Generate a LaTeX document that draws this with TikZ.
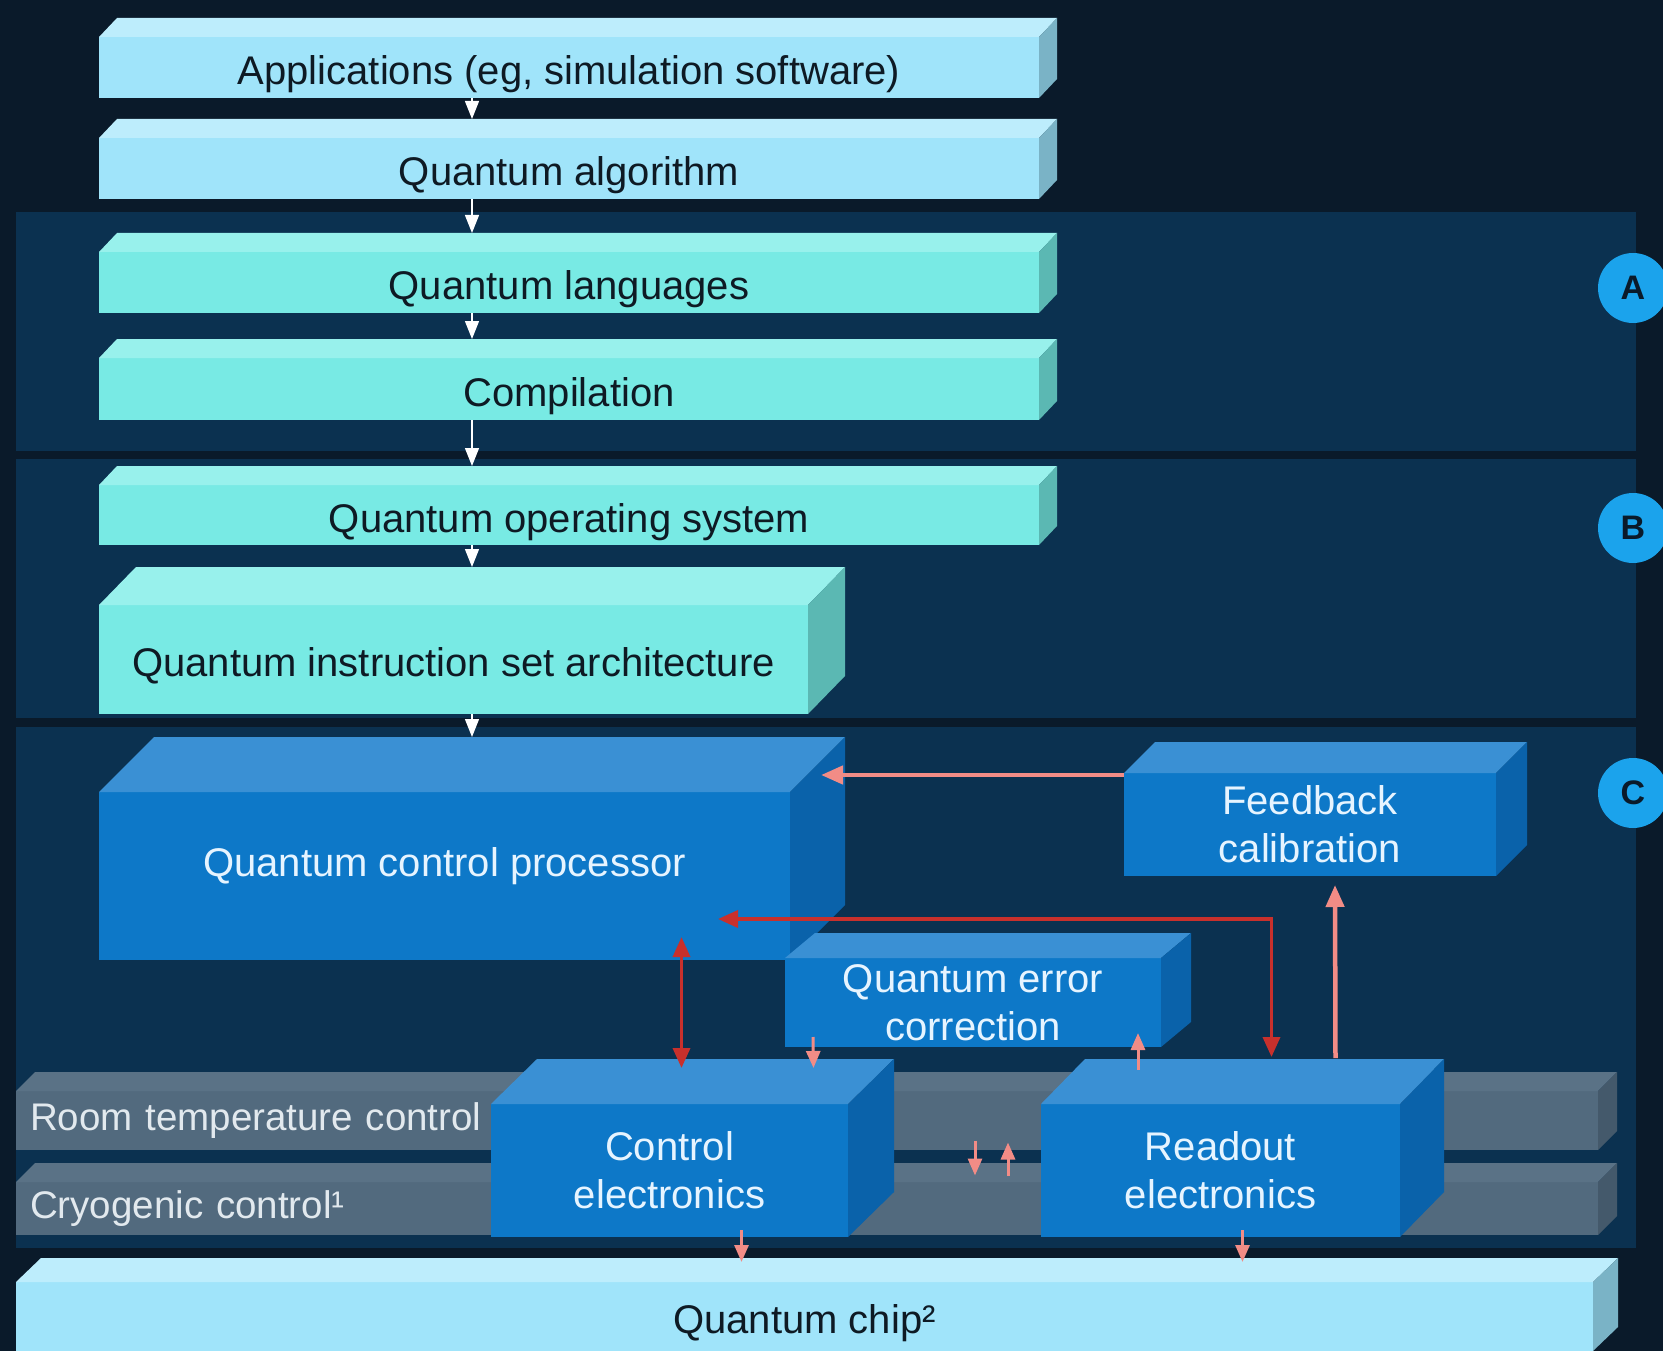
\documentclass[tikz,border=0pt]{standalone}
\usepackage{fontspec}
\setmainfont{Liberation Sans}
\usetikzlibrary{arrows.meta,calc}

\definecolor{bgnavy}{HTML}{0A1A2A}
\definecolor{panelnavy}{HTML}{0B3150}
\definecolor{skyfront}{HTML}{A0E4FA}
\definecolor{skytop}{HTML}{BDEDFC}
\definecolor{skyside}{HTML}{7AB3C6}
\definecolor{tealfront}{HTML}{78EAE4}
\definecolor{tealtop}{HTML}{98F1EC}
\definecolor{tealside}{HTML}{5BB8B3}
\definecolor{bluefront}{HTML}{0D78C8}
\definecolor{bluetop}{HTML}{3A90D4}
\definecolor{blueside}{HTML}{0A62AA}
\definecolor{grayfront}{HTML}{526A7E}
\definecolor{graytop}{HTML}{5A7286}
\definecolor{grayside}{HTML}{44596B}
\definecolor{badgeblue}{HTML}{1BA3EC}
\definecolor{linkpink}{HTML}{F28C86}
\definecolor{linkred}{HTML}{C8302C}
\definecolor{inkdark}{HTML}{0E1A24}
\definecolor{inklight}{HTML}{E6F4FF}
\definecolor{bandink}{HTML}{E2E9EE}

% top and right faces of a slab: node, dx, dy, colour family
\newcommand{\boxfaces}[4]{%
  \fill[#4top] (#1.north west) -- ++(#2,-#3)
    -- ($(#1.north east)+(#2,-#3)$) -- (#1.north east) -- cycle;
  \fill[#4side] (#1.north east) -- ++(#2,-#3)
    -- ($(#1.south east)+(#2,-#3)$) -- (#1.south east) -- cycle;}

\begin{document}
\begin{tikzpicture}[x=1pt, y=-1pt,
  slab/.style={anchor=north west, inner sep=0pt, outer sep=0pt,
    align=center, font=\fontsize{40}{48}\selectfont},
  skyslab/.style={slab, fill=skyfront, text=inkdark,
    text height=37pt, text depth=3pt},
  tealslab/.style={slab, fill=tealfront, text=inkdark,
    text height=37pt, text depth=3pt},
  blueslab/.style={slab, fill=bluefront, text=inklight},
  grayslab/.style={slab, fill=grayfront, text=bandink,
    font=\fontsize{38.5}{46}\selectfont,
    inner xsep=14pt, text width=1554pt, align=left},
  badge/.style={circle, fill=badgeblue, minimum size=70pt, inner sep=0pt,
    font=\fontsize{34}{34}\selectfont\bfseries, text=bgnavy},
  flow/.style={-{Triangle[width=14pt,length=18pt]}, white, line width=1.2pt},
  fbk/.style={-{Triangle[width=18pt,length=22pt]}, linkpink, line width=4.5pt},
  sig/.style={-{Triangle[width=14pt,length=17pt]}, linkpink, line width=3pt},
  redlink/.style={{Triangle[width=17pt,length=20pt]}-{Triangle[width=17pt,length=20pt]},
    linkred, line width=3.5pt}]

% backdrop and the three layers
\useasboundingbox (0,0) rectangle (1663,1351);
\fill[bgnavy] (0,0) rectangle (1663,1351);
\fill[panelnavy] (16,212) rectangle (1636,451);
\fill[panelnavy] (16,459) rectangle (1636,718);
\fill[panelnavy] (16,727) rectangle (1636,1248);

\node[badge] (tagA) at (1633,288) {A};
\node[badge] (tagB) at (1633,528) {B};
\node[badge] (tagC) at (1633,793) {C};

% software stack
\node[skyslab, minimum width=940pt, minimum height=61pt] (app) at (99,37)
  {Applications (eg, simulation software)};
\boxfaces{app}{18}{19}{sky}
\node[skyslab, minimum width=940pt, minimum height=61pt] (algo) at (99,138)
  {Quantum algorithm};
\boxfaces{algo}{18}{19}{sky}
\node[tealslab, minimum width=940pt, minimum height=61pt] (lang) at (99,252)
  {Quantum languages};
\boxfaces{lang}{18}{19}{teal}
\node[tealslab, minimum width=940pt, minimum height=62pt] (comp) at (99,358)
  {Compilation};
\boxfaces{comp}{18}{19}{teal}
\node[tealslab, minimum width=940pt, minimum height=60pt] (qos) at (99,485)
  {Quantum operating system};
\boxfaces{qos}{18}{19}{teal}
\node[tealslab, minimum width=709pt, minimum height=109pt] (qisa) at (99,605)
  {Quantum instruction set architecture};
\boxfaces{qisa}{37}{38}{teal}

% control layer
\node[blueslab, minimum width=691pt, minimum height=168pt,
  text height=18pt, text depth=18pt] (qcp) at (99,792)
  {Quantum control processor};
\boxfaces{qcp}{55}{55}{blue}
\node[blueslab, minimum width=372pt, minimum height=103pt] (fb) at (1124,773)
  {Feedback\\calibration};
\boxfaces{fb}{31}{31}{blue}
\node[blueslab, minimum width=376pt, minimum height=89pt] (qec) at (785,958)
  {Quantum error\\correction};
\boxfaces{qec}{30}{25}{blue}

\node[grayslab, minimum height=59pt] (room) at (16,1091)
  {Room temperature control};
\boxfaces{room}{19}{19}{gray}
\node[grayslab, minimum height=53pt] (cryo) at (16,1182)
  {Cryogenic control¹};
\boxfaces{cryo}{19}{19}{gray}

\node[blueslab, minimum width=357pt, minimum height=133pt] (ctrl) at (491,1104)
  {Control\\electronics};
\boxfaces{ctrl}{46}{45}{blue}
\node[blueslab, minimum width=359pt, minimum height=133pt] (ro) at (1041,1104)
  {Readout\\electronics};
\boxfaces{ro}{44}{45}{blue}

\node[skyslab, minimum width=1577pt, minimum height=69pt] (chip) at (16,1282)
  {Quantum chip²};
\boxfaces{chip}{25}{24}{sky}

% downward flow through the stack
\coordinate (col) at (472,0);
\foreach \a/\b/\d in {app/algo/19, algo/lang/19, lang/comp/19,
    comp/qos/19, qos/qisa/38, qisa/qcp/55}
  \draw[flow, shorten >=\d pt] (\a.south -| col) -- (\b.north -| col);

% feedback paths
\draw[fbk] ([yshift=-2pt]fb.north west) -- ($(qcp.north east)+(31,-17)$);
\draw[fbk] ($(ro.north)+(115,-46)$) -- ($(fb.south)+(25,9)$);
\draw[redlink] ($(qcp.south east)+(-72,-41)$) -| ($(ro.north)+(51,-47)$);
\draw[redlink] ($(qcp.south)+(237,-23)$) -- ($(ctrl.north)+(12,-36)$);

% short signal arrows
\draw[sig] ($(qec.south west)+(28,-10)$) -- ($(ctrl.north)+(144,-36)$);
\draw[sig] ($(ro.north west)+(97,-34)$) -- ($(qec.south east)+(-23,-14)$);
\draw[sig] ($(ctrl.east)+(127,-30)$) -- ($(ctrl.east)+(127,5)$);
\draw[sig] ($(ro.west)+(-33,5)$) -- ($(ro.west)+(-33,-28)$);
\draw[sig] ($(ctrl.south)+(72,-7)$) -- ($(chip.north)+(-63,-20)$);
\draw[sig] ($(ro.south)+(22,-7)$) -- ($(chip.north)+(438,-20)$);

\end{tikzpicture}
\end{document}
